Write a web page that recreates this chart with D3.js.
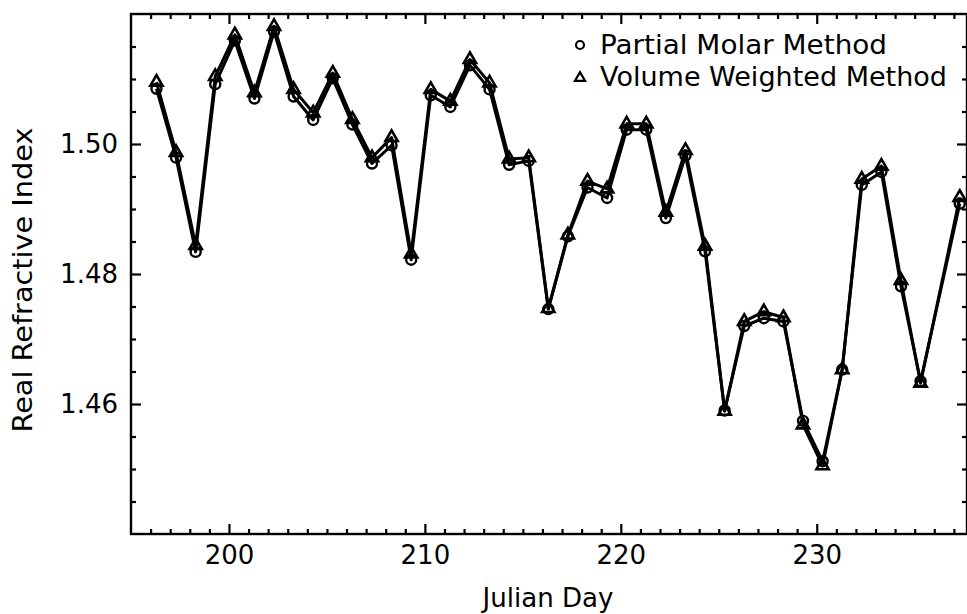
<!DOCTYPE html>
<html>
<head>
<meta charset="utf-8">
<script src="https://cdn.jsdelivr.net/npm/d3@7"></script>
<style>
  body { margin: 0; background: #fff; }
  text { font-family: "DejaVu Sans", sans-serif; fill: #000; }
</style>
</head>
<body>
<div id="chart"></div>
<script>
// data (one point per day, last one skips a day)
var days = [196.3, 197.3, 198.3, 199.3, 200.3, 201.3, 202.3, 203.3, 204.3, 205.3,
            206.3, 207.3, 208.3, 209.3, 210.3, 211.3, 212.3, 213.3, 214.3, 215.3,
            216.3, 217.3, 218.3, 219.3, 220.3, 221.3, 222.3, 223.3, 224.3, 225.3,
            226.3, 227.3, 228.3, 229.3, 230.3, 231.3, 232.3, 233.3, 234.3, 235.3,
            237.3];
var partialMolar = [1.5085, 1.4979, 1.4834, 1.5092, 1.5159, 1.5070, 1.5173, 1.5073, 1.5037, 1.5101,
                    1.5030, 1.4970, 1.4998, 1.4822, 1.5075, 1.5057, 1.5121, 1.5084, 1.4968, 1.4974,
                    1.4746, 1.4858, 1.4933, 1.4917, 1.5022, 1.5022, 1.4886, 1.4982, 1.4835, 1.4590,
                    1.4720, 1.4732, 1.4727, 1.4574, 1.4512, 1.4653, 1.4937, 1.4957, 1.4781, 1.4635,
                    1.4908];
var volumeWeighted = [1.5095, 1.4987, 1.4844, 1.5104, 1.5168, 1.5079, 1.5181, 1.5084, 1.5048, 1.5109,
                      1.5038, 1.4979, 1.5010, 1.4831, 1.5084, 1.5066, 1.5130, 1.5094, 1.4977, 1.4979,
                      1.4747, 1.4860, 1.4943, 1.4931, 1.5031, 1.5031, 1.4895, 1.4990, 1.4843, 1.4589,
                      1.4727, 1.4742, 1.4733, 1.4568, 1.4505, 1.4653, 1.4946, 1.4966, 1.4790, 1.4632,
                      1.4918];
var xTicks = [200, 210, 220, 230];
var yTicks = [1.46, 1.48, 1.50];
var seriesNames = ["Partial Molar Method", "Volume Weighted Method"];

var W = 967, H = 614;
// plot box (note: "top" is reserved on window, so use other names)
var pL = 131, pR = 967, pT = 14, pB = 534;

var svg = d3.select("#chart").append("svg")
    .attr("width", W).attr("height", H);

var x = d3.scaleLinear().domain([195, 237.67]).range([pL, pR]);
var y = d3.scaleLinear().domain([1.44, 1.52]).range([pB, pT]);

var xMinor = d3.range(196, 238, 1).filter(d => d % 10 != 0);
var yMinor = d3.range(1, 16).map(i => +(1.44 + i * 0.005).toFixed(3)).filter(d => yTicks.indexOf(d) < 0);

function styleAxis(g) {
  g.select(".domain").remove();
  g.selectAll("line").attr("stroke", "#000").attr("stroke-width", 2.2);
}

// bottom axis (labels + inward ticks)
svg.append("g").attr("transform", "translate(0," + pB + ")")
  .call(d3.axisBottom(x).tickValues(xTicks).tickSize(-10).tickSizeOuter(0).tickPadding(12).tickFormat(d3.format("d")))
  .call(styleAxis)
  .selectAll("text").style("font-size", "26px").style("font-family", "DejaVu Sans");
svg.append("g").attr("transform", "translate(0," + pB + ")")
  .call(d3.axisBottom(x).tickValues(xMinor).tickSize(-5).tickSizeOuter(0).tickFormat(""))
  .call(styleAxis);

// top axis, ticks only
svg.append("g").attr("transform", "translate(0," + pT + ")")
  .call(d3.axisTop(x).tickValues(xTicks).tickSize(-10).tickSizeOuter(0).tickFormat(""))
  .call(styleAxis);
svg.append("g").attr("transform", "translate(0," + pT + ")")
  .call(d3.axisTop(x).tickValues(xMinor).tickSize(-5).tickSizeOuter(0).tickFormat(""))
  .call(styleAxis);

// left axis
svg.append("g").attr("transform", "translate(" + pL + ",0)")
  .call(d3.axisLeft(y).tickValues(yTicks).tickSize(-10).tickSizeOuter(0).tickPadding(13).tickFormat(d3.format(".2f")))
  .call(styleAxis)
  .selectAll("text").style("font-size", "26px").style("font-family", "DejaVu Sans");
svg.append("g").attr("transform", "translate(" + pL + ",0)")
  .call(d3.axisLeft(y).tickValues(yMinor).tickSize(-5).tickSizeOuter(0).tickFormat(""))
  .call(styleAxis);

// right axis, ticks only
svg.append("g").attr("transform", "translate(" + pR + ",0)")
  .call(d3.axisRight(y).tickValues(yTicks).tickSize(-10).tickSizeOuter(0).tickFormat(""))
  .call(styleAxis);
svg.append("g").attr("transform", "translate(" + pR + ",0)")
  .call(d3.axisRight(y).tickValues(yMinor).tickSize(-5).tickSizeOuter(0).tickFormat(""))
  .call(styleAxis);

// frame
svg.append("rect")
  .attr("x", pL).attr("y", pT)
  .attr("width", pR - pL).attr("height", pB - pT)
  .attr("fill", "none").attr("stroke", "#000").attr("stroke-width", 2.4);

// axis titles
svg.append("text")
  .attr("x", 548).attr("y", 607)
  .attr("text-anchor", "middle")
  .style("font-size", "26px")
  .attr("textLength", 131).attr("lengthAdjust", "spacingAndGlyphs")
  .text("Julian Day");

svg.append("text")
  .attr("transform", "translate(32,280) rotate(-90)")
  .attr("text-anchor", "middle")
  .style("font-size", "27px")
  .attr("textLength", 305).attr("lengthAdjust", "spacingAndGlyphs")
  .text("Real Refractive Index");

// lines
var line = d3.line().x(d => x(d[0])).y(d => y(d[1]));
var pmData = days.map((d, i) => [d, partialMolar[i]]);
var vwData = days.map((d, i) => [d, volumeWeighted[i]]);

[pmData, vwData].forEach(function(s) {
  svg.append("path").datum(s)
    .attr("d", line)
    .attr("fill", "none")
    .attr("stroke", "#000")
    .attr("stroke-width", 3)
    .attr("stroke-linejoin", "round");
});

var tri = d3.symbol().type(d3.symbolTriangle).size(65);

svg.selectAll(".tri").data(vwData).enter()
  .append("path")
    .attr("class", "tri")
    .attr("d", tri)
    .attr("transform", d => "translate(" + x(d[0]) + "," + y(d[1]) + ")")
    .attr("fill", "none")
    .attr("stroke", "#000")
    .attr("stroke-width", 2.6);

svg.selectAll(".circ").data(pmData).enter()
  .append("circle")
    .attr("class", "circ")
    .attr("cx", d => x(d[0]))
    .attr("cy", d => y(d[1]))
    .attr("r", 5)
    .attr("fill", "none")
    .attr("stroke", "#000")
    .attr("stroke-width", 2.4);

// legend
var legend = svg.append("g").attr("transform", "translate(580,0)");
legend.append("circle").attr("cx", 0).attr("cy", 45).attr("r", 4)
  .attr("fill", "none").attr("stroke", "#000").attr("stroke-width", 2.2);
legend.append("path").attr("d", d3.symbol().type(d3.symbolTriangle).size(45))
  .attr("transform", "translate(0,78)")
  .attr("fill", "none").attr("stroke", "#000").attr("stroke-width", 2.2);
legend.append("text").attr("x", 20).attr("y", 54)
  .style("font-size", "26px").attr("textLength", 287).attr("lengthAdjust", "spacingAndGlyphs")
  .text(seriesNames[0]);
legend.append("text").attr("x", 20).attr("y", 86)
  .style("font-size", "26px").attr("textLength", 347).attr("lengthAdjust", "spacingAndGlyphs")
  .text(seriesNames[1]);
</script>
</body>
</html>
